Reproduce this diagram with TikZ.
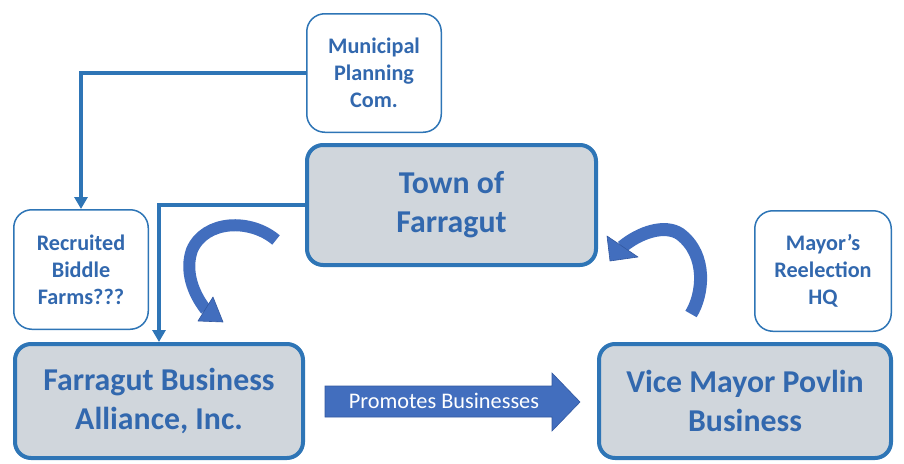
\documentclass[tikz,border=0pt]{standalone}
\usepackage{fontspec}
\setmainfont{Carlito}
\usetikzlibrary{arrows.meta}
\definecolor{boxblue}{RGB}{46,117,182}
\definecolor{textblue}{RGB}{50,104,174}
\definecolor{grayfill}{RGB}{208,214,220}
\definecolor{arrowblue}{RGB}{66,110,190}
\definecolor{arrowedge}{RGB}{50,88,160}
\begin{document}
\begin{tikzpicture}[x=1pt,y=-1pt,
  bigbox/.style={draw=boxblue, line width=4pt, fill=grayfill, rounded corners=16pt,
    align=center, text=textblue, inner sep=0pt,
    font=\bfseries\fontsize{31.8}{39}\selectfont},
  smallbox/.style={draw=boxblue, line width=1.5pt, fill=white, rounded corners=18pt,
    align=center, text=textblue, inner sep=0pt,
    font=\bfseries\fontsize{22.2}{27}\selectfont},
  conn/.style={draw=boxblue, line width=3.6pt, -{Triangle[length=12pt,width=13pt]}},
  curvband/.style={draw=arrowblue, line width=12pt},
  curvhead/.style={fill=arrowblue, draw=arrowedge, line width=0.6pt, line join=round}
]
\useasboundingbox (0,0) rectangle (904,463);

% boxes
\node[smallbox, minimum width=134.5pt, minimum height=118.5pt] (mpc) at (374,73) {Municipal\\Planning\\Com.};
\node[bigbox, minimum width=289pt, minimum height=120pt] (town) at (451.5,205) {Town of\\Farragut};
\node[smallbox, minimum width=134.5pt, minimum height=119.5pt] (rbf) at (81,269.5) {Recruited\\Biddle\\Farms???};
\node[smallbox, minimum width=136.5pt, minimum height=120.5pt] (hq) at (823,271) {Mayor’s\\Reelection\\HQ};
\node[bigbox, minimum width=288pt, minimum height=114pt] (fba) at (159,401) {Farragut Business\\Alliance, Inc.};
\node[bigbox, minimum width=292pt, minimum height=114pt] (vmp) at (745,401) {Vice Mayor Povlin\\Business};

% connectors
\draw[conn] (mpc.west) -| (rbf.north);
\draw[conn] (town.west) -| (fba.north);

% promotes arrow
\fill[arrowblue, draw=arrowedge, line width=0.6pt]
  (325,386) -- (552,386) -- (552,373) -- (580,402) -- (552,431) -- (552,417) -- (325,417) -- cycle;
\node[text=white, font=\fontsize{22.3}{25}\selectfont] (prom) at (444,401) {Promotes Businesses};

% left curved arrow
\draw[curvband] (276,240) .. controls (250,218) and (205,220) .. (192,250)
  .. controls (185,270) and (192,292) .. (206,310);
\filldraw[curvhead] (213,297) -- (223,322) -- (198,321) -- cycle;

% right curved arrow
\draw[curvband, line width=13pt] (691,314) .. controls (703,295) and (708,255) .. (680,234)
  .. controls (665,224) and (640,232) .. (622,247);
\filldraw[curvhead] (607,236) -- (610,261) -- (638,257) -- cycle;
\end{tikzpicture}
\end{document}
